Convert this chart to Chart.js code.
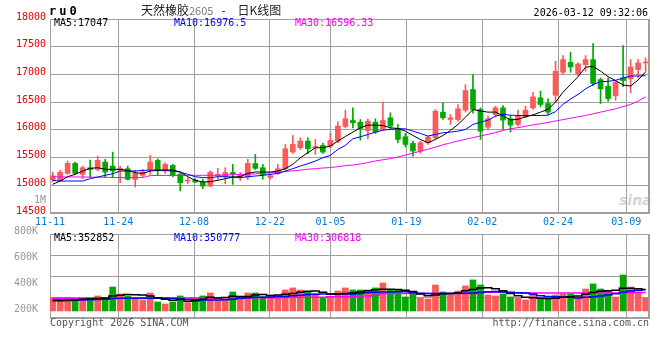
<!DOCTYPE html>
<html>
<head>
<meta charset="utf-8">
<script src="https://cdn.jsdelivr.net/npm/chart.js@4.4.1/dist/chart.umd.min.js"></script>
<style>
  html, body { margin: 0; padding: 0; background: #fff; }
  #wrap { position: relative; width: 660px; height: 360px; overflow: hidden;
          font-family: "DejaVu Sans Mono", monospace; font-size: 10px; }
  #wrap canvas { position: absolute; left: 0; }
  .t { position: absolute; white-space: nowrap; line-height: 12px; }
</style>
</head>
<body>
<div id="wrap">
  <div class="t" style="left:619px;top:192px;font:italic bold 14px 'DejaVu Sans';color:#d4d4d4;">sina</div>
  <canvas id="kline" width="660" height="230" style="top:0"></canvas>
  <canvas id="vol" width="660" height="108" style="top:222px"></canvas>

  <div class="t" style="left:49px;top:5px;font-weight:bold;font-size:12px;letter-spacing:3px;">ru0</div>
  <div class="t" style="left:141px;top:3px;line-height:14px;font-family:'Noto Sans CJK SC';font-size:12px;color:#222;">天然橡胶<span style="color:#777;font-size:11px;">2605</span><span style="margin:0 12px 0 8px;">-</span>日K线图</div>
  <div class="t" style="right:12px;top:7px;">2026-03-12 09:32:06</div>

  <div class="t" style="left:54px;top:17px;color:#000;">MA5:17047</div>
  <div class="t" style="left:174px;top:17px;color:#0000ff;">MA10:16976.5</div>
  <div class="t" style="left:295px;top:17px;color:#ff00ff;">MA30:16596.33</div>
  <div class="t" style="right:614px;top:194px;color:#999;">1M</div>

  <div class="t" style="left:54px;top:232px;color:#000;">MA5:352852</div>
  <div class="t" style="left:174px;top:232px;color:#0000ff;">MA10:350777</div>
  <div class="t" style="left:295px;top:232px;color:#ff00ff;">MA30:306818</div>

  <div class="t" style="left:50px;top:317px;color:#555;">Copyright 2026 SINA.COM</div>
  <div class="t" style="right:11px;top:317px;color:#555;">http://finance.sina.com.cn</div>
</div>

<script>
// 交易日
const dates = [
  '11-11','11-12','11-13','11-14',
  '11-17','11-18','11-19','11-20','11-21',
  '11-24','11-25','11-26','11-27','11-28',
  '12-01','12-02','12-03','12-04','12-05',
  '12-08','12-09','12-10','12-11','12-12',
  '12-15','12-16','12-17','12-18','12-19',
  '12-22','12-23','12-24','12-25','12-26',
  '12-29','12-30','12-31',
  '01-05','01-06','01-07','01-08','01-09',
  '01-12','01-13','01-14','01-15','01-16',
  '01-19','01-20','01-21','01-22','01-23',
  '01-26','01-27','01-28','01-29','01-30',
  '02-02','02-03','02-04','02-05','02-06',
  '02-09','02-10','02-11','02-12','02-13',
  '02-24','02-25','02-26','02-27',
  '03-02','03-03','03-04','03-05','03-06',
  '03-09','03-10','03-11','03-12'
];
const tickDates = ['11-11','11-24','12-08','12-22','01-05','01-19','02-02','02-24','03-09'];

const open  = [15100,15090,15215,15395,15197,15317,15287,15419,15347,15275, 15299,15107,15179,15287,15449,15257,15359,15197,15077,15095,
               15059,14987,15175,15160,15230,15160,15150,15392,15317,15140, 15209,15299,15599,15677,15797,15680,15719,15707,15797,16060,
               16169,16139,15989,16139,16019,16217,16025,15875,15755,15617, 15767,15857,16319,16187,16187,16355,16727,16367,16049,16277,
               16397,16199,16097,16235,16397,16577,16475,16625,17039,17219, 17015,17177,17267,16907,16787,16619,16937,16919,17087,17207];
const high  = [15240,15269,15437,15419,15347,15455,15527,15467,15599,15347, 15347,15275,15287,15539,15479,15407,15377,15215,15137,15119,
               15107,15257,15305,15317,15377,15233,15467,15557,15377,15200, 15377,15737,15899,15857,15857,15827,15755,15947,16145,16355,
               16397,16187,16199,16199,16499,16307,16097,15935,15797,15797, 15887,16367,16487,16277,16457,16817,16997,16397,16247,16427,
               16439,16259,16355,16427,16679,16697,16559,17237,17339,17399, 17207,17339,17555,16937,16937,16877,17519,17267,17267,17297];
const low   = [15060,15071,15197,15197,15119,15137,15257,15137,15137,15047, 15095,14969,15155,15197,15179,15215,15155,14897,15029,15047,
               14939,14975,15107,15030,15017,15085,15100,15287,15110,15110, 15197,15275,15575,15647,15569,15557,15575,15677,15767,16037,
               16037,15815,15839,15935,15995,16007,15767,15695,15527,15575, 15737,15827,16187,16097,16157,16319,16300,15827,16007,16235,
               16019,15959,16067,16217,16367,16415,16277,16517,17009,17039, 16979,17057,16799,16475,16517,16535,16780,16667,16937,17057];
const close = [15170,15235,15395,15215,15317,15287,15449,15239,15257,15305, 15107,15215,15239,15419,15275,15377,15185,15047,15083,15059,
               14987,15235,15195,15230,15205,15180,15395,15305,15190,15170, 15299,15659,15737,15797,15659,15700,15599,15809,16067,16200,
               16127,16025,16157,15959,16169,16067,15827,15737,15617,15767, 15869,16337,16217,16217,16379,16709,16367,15977,16199,16397,
               16175,16085,16259,16355,16595,16457,16319,17057,17267,17135, 17189,17267,16835,16739,16565,16859,16890,17135,17207,17213];

// 均线
const ma5  = [15017,15077,15155,15197,15257,15305,15317,15290,15287,15287, 15269,15227,15215,15257,15269,15275,15275,15239,15155,15089,
              15059,15065,15089,15119,15149,15155,15215,15239,15239,15239, 15257,15299,15377,15497,15587,15677,15677,15707,15797,15880,
              15959,16037,16085,16085,16079,16037,16025,15977,15899,15827, 15767,15827,15899,15989,16097,16229,16367,16340,16320,16320,
              16250,16180,16190,16235,16270,16320,16370,16500,16680,16820, 16960,17130,17145,17060,16960,16890,16810,16790,16900,17047];
const ma10 = [15089,15077,15077,15077,15077,15119,15149,15179,15209,15257, 15257,15257,15269,15275,15275,15269,15257,15239,15197,15155,
              15137,15137,15155,15155,15149,15137,15155,15167,15179,15197, 15215,15257,15299,15347,15389,15437,15497,15539,15647,15719,
              15839,15875,15917,15959,15995,16007,16019,16019,15977,15935, 15887,15917,15947,15959,15977,16007,16097,16139,16175,16247,
              16280,16265,16259,16259,16259,16259,16265,16330,16460,16555, 16640,16740,16815,16870,16875,16895,16935,16970,16972,16976.5];
const ma30 = [15152,15152,15150,15150,15150,15148,15146,15145,15140,15138, 15138,15138,15140,15175,15177,15178,15178,15178,15180,15180,
              15180,15180,15182,15185,15192,15195,15200,15205,15215,15225, 15235,15248,15260,15275,15290,15300,15312,15320,15335,15355,
              15365,15385,15410,15440,15460,15480,15510,15545,15580,15615, 15650,15690,15730,15765,15800,15830,15860,15890,15920,15950,
              15990,16020,16040,16065,16090,16110,16135,16160,16185,16210, 16235,16260,16290,16320,16350,16380,16420,16460,16520,16596.33];

// 成交量 (K)
const volume = [226,226,226,182,209,182,248,209,396,281, 248,226,182,297,149,116,149,248,138,209,
                248,297,182,182,314,209,297,297,237,237, 248,347,380,347,314,281,226,226,330,380,
                347,347,347,380,462,347,347,231,281,215, 198,429,314,264,330,413,512,429,264,248,
                281,231,215,182,281,198,198,264,281,281, 231,363,446,363,330,231,594,396,314,215];
const volMa5  = [170,168,172,180,195,200,205,212,245,260, 270,268,262,245,220,195,178,188,160,170,
                 195,225,215,222,242,238,240,262,270,255, 262,275,290,310,325,330,310,280,275,288,
                 295,315,335,350,360,360,355,340,320,280, 250,265,285,285,300,335,355,380,385,365,
                 335,290,250,225,220,210,205,210,225,235, 245,275,305,325,335,340,375,375,365,352.9];
const volMa10 = [182,182,182,182,182,185,190,195,205,210, 210,210,210,210,210,208,205,200,190,185,
                 182,182,182,185,195,210,220,225,228,232, 237,240,250,260,270,275,278,278,278,280,
                 282,290,300,308,312,315,318,318,300,292, 290,290,290,292,292,292,295,305,318,320,
                 315,305,300,295,280,250,240,235,232,225, 215,225,235,245,265,285,310,330,340,350.8];
const volMa30 = [210,210,210,210,210,210,210,210,210,210, 210,212,212,212,212,212,212,212,212,212,
                 212,218,218,218,218,218,218,218,218,218, 218,225,225,225,225,225,225,235,235,235,
                 240,245,248,260,285,290,290,290,290,290, 290,290,290,290,290,290,290,308,308,308,
                 308,308,295,295,295,295,295,295,295,295, 295,295,295,295,295,295,300,302,305,306.8];
const priceTicks = [14500,15000,15500,16000,16500,17000,17500,18000];
const volTicks = [200,400,600,800];

const UP = '#ff5a5a', DOWN = '#00a800';
const GRID = '#a0a0a0';

Chart.defaults.font.family = '"DejaVu Sans Mono", monospace';
Chart.defaults.font.size = 10;
Chart.defaults.animation = false;

const idx = dates.map((d, i) => i);
const candleColor = idx.map(i => close[i] >= open[i] ? UP : DOWN);
const tickIdx = tickDates.map(d => dates.indexOf(d));
const pts = arr => idx.map(i => ({ x: i, y: arr[i] }));

const frame = {
  id: 'frame',
  afterDraw(chart) {
    const { ctx, chartArea: a } = chart;
    ctx.save();
    ctx.strokeStyle = '#a0a0a0';
    ctx.lineWidth = 1;
    ctx.beginPath();
    ctx.moveTo(a.left, Math.round(a.top) + 0.5);
    ctx.lineTo(a.right, Math.round(a.top) + 0.5);
    ctx.stroke();
    ctx.lineWidth = 2;
    ctx.beginPath();
    ctx.moveTo(a.left, Math.round(a.bottom));
    ctx.lineTo(a.right + 1, Math.round(a.bottom));
    ctx.moveTo(Math.round(a.right), a.top);
    ctx.lineTo(Math.round(a.right), a.bottom + 1);
    ctx.stroke();
    ctx.restore();
  }
};

function xAxes(showLabels, h) {
  return {
    x: { type: 'linear', display: false, min: -0.35, max: 79.45, offset: false },
    xg: {
      type: 'linear', position: 'bottom', min: 0, max: dates.length - 1, offset: false,
      afterBuildTicks: s => { s.ticks = tickIdx.map(v => ({ value: v })); },
      afterFit: s => { s.height = h; },
      border: { display: false },
      grid: { color: GRID, borderDash: [2, 2], drawTicks: false, offset: false },
      ticks: { display: showLabels, autoSkip: false, maxRotation: 0, padding: 3,
               color: '#0a78d0', callback: v => dates[v] }
    }
  };
}

const line = (arr, color, w, stepped) => ({
  type: 'line', data: pts(arr), borderColor: color, borderWidth: w,
  pointRadius: 0, tension: 0, stepped: stepped || false, order: 1, xAxisID: 'x'
});

new Chart(document.getElementById('kline'), {
  type: 'bar',
  data: {
    datasets: [
      line(ma5, '#000000', 1),
      line(ma10, '#0000ff', 1),
      line(ma30, '#ff00ff', 1),
      { type: 'bar', data: idx.map(i => ({ x: i, y: [open[i], close[i]] })), backgroundColor: candleColor,
        barThickness: 5, minBarLength: 1, grouped: false, order: 2, xAxisID: 'x', yAxisID: 'y' },
      { type: 'bar', data: idx.map(i => ({ x: i, y: [low[i], high[i]] })), backgroundColor: candleColor,
        barThickness: 1, grouped: false, order: 3, xAxisID: 'x', yAxisID: 'y' }
    ]
  },
  options: {
    responsive: false, devicePixelRatio: 1,
    layout: { padding: { top: 19, right: 11, left: 0, bottom: 0 } },
    plugins: { legend: { display: false }, tooltip: { enabled: false } },
    scales: Object.assign(xAxes(true, 17), {
      y: {
        type: 'linear', min: 14500, max: 18000,
        afterBuildTicks: s => { s.ticks = priceTicks.map(v => ({ value: v })); },
        afterFit: s => { s.width = 50; },
        border: { display: false },
        grid: { color: GRID, borderDash: [2, 2], drawTicks: false },
        ticks: { color: '#e60000', padding: 4, labelOffset: -2, callback: v => String(v) }
      }
    })
  },
  plugins: [frame]
});

new Chart(document.getElementById('vol'), {
  type: 'bar',
  data: {
    datasets: [
      line(volMa5, '#000000', 1.5, 'middle'),
      line(volMa10, '#0000ff', 1.5, 'middle'),
      line(volMa30, '#ff00ff', 1.5, 'middle'),
      { type: 'bar', data: idx.map(i => ({ x: i, y: volume[i] })), backgroundColor: candleColor,
        barThickness: 6, grouped: false, order: 2, xAxisID: 'x', yAxisID: 'yv' }
    ].map(d => Object.assign({ yAxisID: 'yv' }, d))
  },
  options: {
    responsive: false, devicePixelRatio: 1,
    layout: { padding: { top: 12, right: 11, left: 0, bottom: 12 } },
    plugins: { legend: { display: false }, tooltip: { enabled: false } },
    scales: Object.assign(xAxes(false, 0), {
      yv: { type: 'linear', display: false, min: -116, max: 1270 },
      yl: {
        type: 'linear', position: 'left', min: 153.8, max: 800,
        afterBuildTicks: s => { s.ticks = volTicks.map(v => ({ value: v })); },
        afterFit: s => { s.width = 50; },
        border: { display: false },
        grid: { display: false },
        ticks: { color: '#999', padding: 4, labelOffset: -3, callback: v => v + 'K' }
      },
      yg: {
        type: 'linear', position: 'left', min: 0, max: 4,
        afterBuildTicks: s => { s.ticks = [0, 1, 2, 3, 4].map(v => ({ value: v })); },
        afterFit: s => { s.width = 0; },
        border: { display: false },
        grid: { color: GRID, borderDash: [2, 2], drawTicks: false },
        ticks: { display: false }
      }
    })
  },
  plugins: [frame]
});
</script>
</body>
</html>
